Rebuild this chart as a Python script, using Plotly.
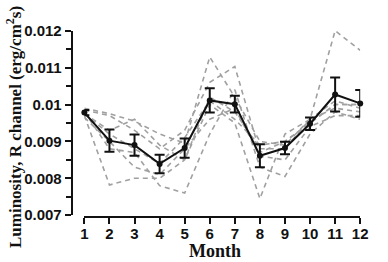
import plotly.graph_objects as go

months = list(range(1, 13))
mean_vals = [0.00978, 0.00902, 0.00890, 0.00839, 0.00882, 0.01011,
             0.01001, 0.00861, 0.00882, 0.00948, 0.01027, 0.01003]
err_vals = [0.00007, 0.00030, 0.00029, 0.00025, 0.00026, 0.00033,
            0.00023, 0.00031, 0.00017, 0.00017, 0.00046, 0.00036]

series_a = [0.00990, 0.00975, 0.00955, 0.00920, 0.00895, 0.01129, 0.01020, 0.00900, 0.00890, 0.00960, 0.01200, 0.01147]
series_b = [0.00985, 0.00970, 0.00930, 0.00880, 0.00930, 0.01060, 0.01103, 0.00870, 0.00900, 0.00950, 0.01000, 0.01000]
series_c = [0.00975, 0.00930, 0.00960, 0.00890, 0.00850, 0.01000, 0.00950, 0.00745, 0.00920, 0.00960, 0.00990, 0.00980]
series_d = [0.00980, 0.00880, 0.00870, 0.00780, 0.00760, 0.00920, 0.01040, 0.00830, 0.00805, 0.00920, 0.00980, 0.00960]
series_e = [0.00970, 0.00782, 0.00800, 0.00800, 0.00850, 0.01020, 0.00980, 0.00880, 0.00880, 0.00960, 0.01010, 0.00990]
series_f = [0.00965, 0.00900, 0.00830, 0.00810, 0.00880, 0.00960, 0.00990, 0.00860, 0.00850, 0.00940, 0.00970, 0.00970]
series_g = [0.00975, 0.00920, 0.00880, 0.00840, 0.00910, 0.01010, 0.00960, 0.00890, 0.00900, 0.00950, 0.01000, 0.01000]
all_series = [series_a, series_b, series_c, series_d, series_e, series_f, series_g]

y_ticks = [0.007, 0.008, 0.009, 0.010, 0.011, 0.012]
y_tick_text = ["0.007", "0.008", "0.009", "0.01", "0.011", "0.012"]
x_title = "Month"
y_title = "Luminosity, R channel (erg/cm<sup>2</sup>s)"

fig = go.Figure()
for s in all_series:
    fig.add_trace(go.Scatter(
        x=months, y=s, mode="lines",
        line=dict(color="#a0a0a0", width=1.6, dash="5px,4px"),
        showlegend=False, hoverinfo="skip", cliponaxis=False))

fig.add_trace(go.Scatter(
    x=months, y=mean_vals, mode="lines+markers",
    line=dict(color="#111111", width=2),
    marker=dict(color="#111111", size=6),
    error_y=dict(type="data", array=err_vals, visible=True,
                 color="#111111", thickness=2, width=5),
    showlegend=False, cliponaxis=False))

W, H = 388, 262
ml, mr, mt, mb = 60, 12, 15, 40
pw = W - ml - mr
ph = H - mt - mb

def px_x(p):
    return (p - ml) / pw

def px_y(p):
    return (H - mb - p) / ph

fig.update_layout(
    width=W, height=H,
    margin=dict(l=ml, r=mr, t=mt, b=mb),
    paper_bgcolor="white", plot_bgcolor="white",
    font=dict(family="Liberation Sans, Arial", color="#111111"),
    xaxis=dict(
        domain=[px_x(85), px_x(368)],
        range=[1, 12],
        anchor="free", position=px_y(217),
        tickmode="array", tickvals=months, ticktext=[str(m) for m in months],
        ticks="outside", ticklen=6, tickwidth=2, tickcolor="#111111",
        ticklabelstandoff=-3,
        showline=True, linewidth=2, linecolor="#111111",
        showgrid=False, zeroline=False,
        tickfont=dict(size=15, family="Liberation Sans, Arial", weight="bold"),
    ),
    yaxis=dict(
        domain=[px_y(215), px_y(25)],
        range=[0.007, 0.012],
        anchor="free", position=px_x(72),
        tickmode="array", tickvals=y_ticks, ticktext=y_tick_text,
        ticks="outside", ticklen=6, tickwidth=2, tickcolor="#111111",
        minor=dict(tickvals=[0.0075, 0.0085, 0.0095, 0.0105, 0.0115],
                   ticks="outside", ticklen=5, tickwidth=2, tickcolor="#111111"),
        showline=True, linewidth=2, linecolor="#111111",
        showgrid=False, zeroline=False,
        tickfont=dict(size=15, family="Liberation Sans, Arial", weight="bold"),
    ),
    annotations=[
        dict(text="<b>" + x_title + "</b>", xref="paper", yref="paper",
             x=px_x(219), y=px_y(251), xanchor="center", yanchor="middle",
             showarrow=False, borderpad=0, height=17,
             font=dict(size=18, family="Liberation Serif, Times New Roman", color="#111111")),
        dict(text="<b>" + y_title + "</b>", xref="paper", yref="paper",
             x=px_x(13), y=px_y(124), xanchor="center", yanchor="middle",
             textangle=-90, showarrow=False, borderpad=0,
             font=dict(size=17, family="Liberation Serif, Times New Roman", color="#111111")),
    ],
)

# remove the browser's default 8px body margin so the figure fills the window
fig.write_html("out.html", config={"displayModeBar": False},
               post_script="document.body.style.margin='0px';")
